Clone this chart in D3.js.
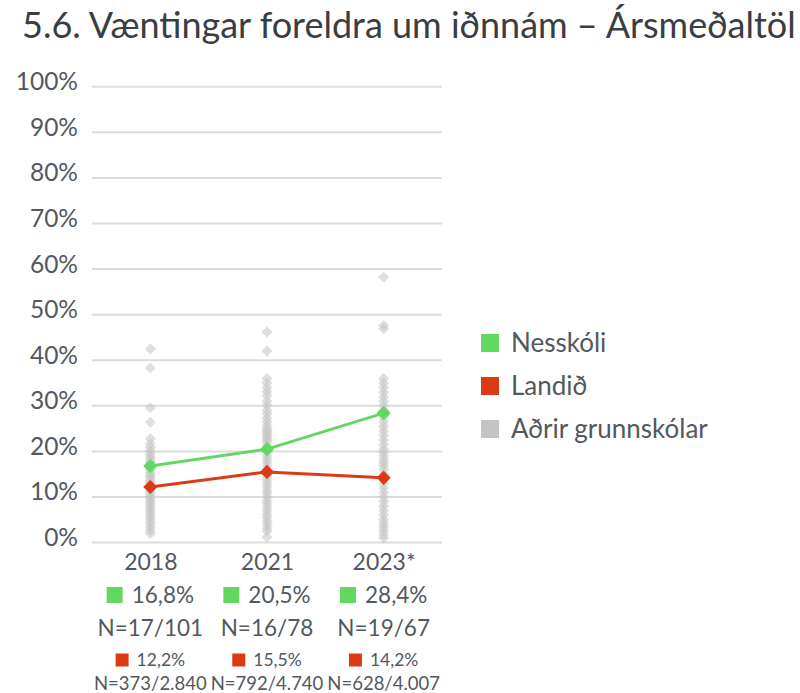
<!DOCTYPE html>
<html>
<head>
<meta charset="utf-8">
<script src="https://cdn.jsdelivr.net/npm/d3@7"></script>
<style>
  html, body { margin: 0; padding: 0; background: #fff; }
  svg { display: block; font-family: Lato, "Open Sans", sans-serif; }
</style>
</head>
<body>
<svg id="chart" width="800" height="693"></svg>
<script>
// Survey years on the x axis
const years = ["2018", "2021", "2023*"];
const yTicks = [0, 0.1, 0.2, 0.3, 0.4, 0.5, 0.6, 0.7, 0.8, 0.9, 1.0];

// Yearly averages (share of parents expecting vocational study)
const nesskoli = [0.168, 0.205, 0.284];
const landid = [0.122, 0.155, 0.142];
const nesskoliLabels = ["16,8%", "20,5%", "28,4%"];
const nesskoliN = ["N=17/101", "N=16/78", "N=19/67"];
const landidLabels = ["12,2%", "15,5%", "14,2%"];
const landidN = ["N=373/2.840", "N=792/4.740", "N=628/4.007"];

// Other primary schools, one value per school and year (%)
const other2018 = [42.5, 38.3, 29.6, 26.4, 22.8, 21.7, 20.9, 20.1, 19.4, 18.8, 18.2, 17.6, 17.1, 16.5,
  16.0, 15.4, 14.8, 14.3, 13.7, 13.2, 12.6, 12.0, 11.4, 10.9, 10.3, 9.8, 9.2, 8.7, 8.1, 7.6, 7.0,
  6.4, 5.8, 5.3, 4.6, 4.0, 3.3, 2.6, 2.0];
const other2021 = [46.2, 42.0, 36.0, 35.0, 34.0, 33.1, 32.2, 31.0, 30.1, 29.0, 28.2, 27.3, 26.5, 25.7,
  25.0, 24.5, 24.0, 23.5, 23.0, 22.5, 22.0, 21.3, 20.5, 19.8, 19.0, 18.3, 17.5, 16.8, 16.0, 15.2,
  14.5, 13.8, 13.0, 12.3, 11.5, 10.8, 10.0, 9.2, 8.5, 7.7, 7.0, 6.2, 5.5, 4.7, 4.0, 3.2, 2.5, 1.2];
const other2023 = [58.2, 47.6, 46.9, 36.0, 35.0, 34.0, 33.0, 32.0, 31.0, 30.0, 29.0, 27.5, 26.5, 25.5,
  24.5, 23.5, 22.5, 21.5, 20.5, 19.8, 19.0, 18.2, 17.5, 16.8, 16.0, 15.0, 14.0, 13.0, 12.0, 11.0,
  10.0, 9.0, 8.0, 7.0, 6.0, 5.0, 4.2, 3.4, 2.6, 1.8, 1.0];
const others = [other2018, other2021, other2023];

const legendItems = ["Nesskóli", "Landið", "Aðrir grunnskólar"];

const GREEN = "#62d862";
const RED = "#dc3a14";
const GREY = "#c4c4c4";
const TEXT = "#53585e";

const svg = d3.select("#chart");

const x = d3.scalePoint().domain(years).range([92, 442]).padding(0.5);
const y = d3.scaleLinear().domain([0, 1]).range([542.6, 86.7]);

// Title
svg.append("text")
  .attr("x", 22).attr("y", 38)
  .attr("font-size", 36)
  .attr("fill", "#3a3e43")
  .text("5.6. Væntingar foreldra um iðnnám – Ársmeðaltöl");

// Horizontal gridlines + y labels
const yAxis = d3.axisLeft(y).tickValues(yTicks).tickSize(0).tickPadding(0)
  .tickFormat(d => Math.round(d * 100) + "%");
const gy = svg.append("g").attr("transform", "translate(78,0)").call(yAxis);
gy.select(".domain").remove();
gy.selectAll("text")
  .attr("font-family", "Lato, 'Open Sans', sans-serif")
  .attr("font-size", 24.5)
  .attr("fill", TEXT)
  .attr("dy", "0.12em");

svg.append("g").selectAll("line").data(yTicks).join("line")
  .attr("x1", 92).attr("x2", 442)
  .attr("y1", d => y(d)).attr("y2", d => y(d))
  .attr("stroke", "#dcdcdc").attr("stroke-width", 2);

// Diamonds: rotated squares
const smallDiamond = d3.symbol().type(d3.symbolSquare).size(62);
const bigDiamond = d3.symbol().type(d3.symbolSquare).size(100);

// Other schools
others.forEach((vals, i) => {
  svg.append("g").selectAll("path").data(vals).join("path")
    .attr("d", smallDiamond)
    .attr("transform", d => `translate(${x(years[i])},${y(d / 100)}) rotate(45)`)
    .attr("fill", GREY).attr("fill-opacity", 0.55);
});

// Series lines
const line = d3.line().x((d, i) => x(years[i])).y(d => y(d));
function drawSeries(values, color) {
  svg.append("path").datum(values)
    .attr("d", line)
    .attr("fill", "none").attr("stroke", color).attr("stroke-width", 3);
  svg.append("g").selectAll("path").data(values).join("path")
    .attr("d", bigDiamond)
    .attr("transform", (d, i) => `translate(${x(years[i])},${y(d)}) rotate(45)`)
    .attr("fill", color);
}
drawSeries(landid, RED);
drawSeries(nesskoli, GREEN);

// Category labels and value table under the axis
const xAxis = d3.axisBottom(x).tickSize(0).tickPadding(0);
const gx = svg.append("g").attr("transform", "translate(0,562)").call(xAxis);
gx.select(".domain").remove();
gx.selectAll("text")
  .attr("font-family", "Lato, 'Open Sans', sans-serif")
  .attr("font-size", 23).attr("fill", TEXT).attr("dy", "0.35em");

function valueRow(labels, yPos, sq, fs, gap, color) {
  const g = svg.append("g").selectAll("g").data(labels).join("g")
    .attr("transform", (d, i) => `translate(${x(years[i])},${yPos})`);
  g.each(function (d) {
    const node = d3.select(this);
    const t = node.append("text").attr("font-size", fs).attr("fill", TEXT)
      .attr("dy", "0.35em").text(d);
    const w = t.node().getComputedTextLength();
    const total = sq + gap + w;
    node.append("rect").attr("x", -total / 2).attr("y", -sq / 2)
      .attr("width", sq).attr("height", sq).attr("fill", color);
    t.attr("x", -total / 2 + sq + gap);
  });
}
function nRow(labels, yPos, fs) {
  svg.append("g").selectAll("text").data(labels).join("text")
    .attr("x", (d, i) => x(years[i])).attr("y", yPos)
    .attr("text-anchor", "middle").attr("dy", "0.35em")
    .attr("font-size", fs).attr("fill", TEXT).text(d => d);
}
valueRow(nesskoliLabels, 595, 16, 22.5, 9, GREEN);
nRow(nesskoliN, 628, 22.5);
valueRow(landidLabels, 660, 13, 17.5, 8, RED);
nRow(landidN, 684, 18.5);

// Legend
const legendColors = [GREEN, RED, GREY];
const lg = svg.append("g").selectAll("g").data(legendItems).join("g")
  .attr("transform", (d, i) => `translate(481,${343 + i * 43})`);
lg.append("rect").attr("x", 0).attr("y", -9).attr("width", 18).attr("height", 18)
  .attr("fill", (d, i) => legendColors[i]);
lg.append("text").attr("x", 30).attr("dy", "0.35em")
  .attr("font-size", 26).attr("fill", TEXT).text(d => d);
</script>
</body>
</html>
